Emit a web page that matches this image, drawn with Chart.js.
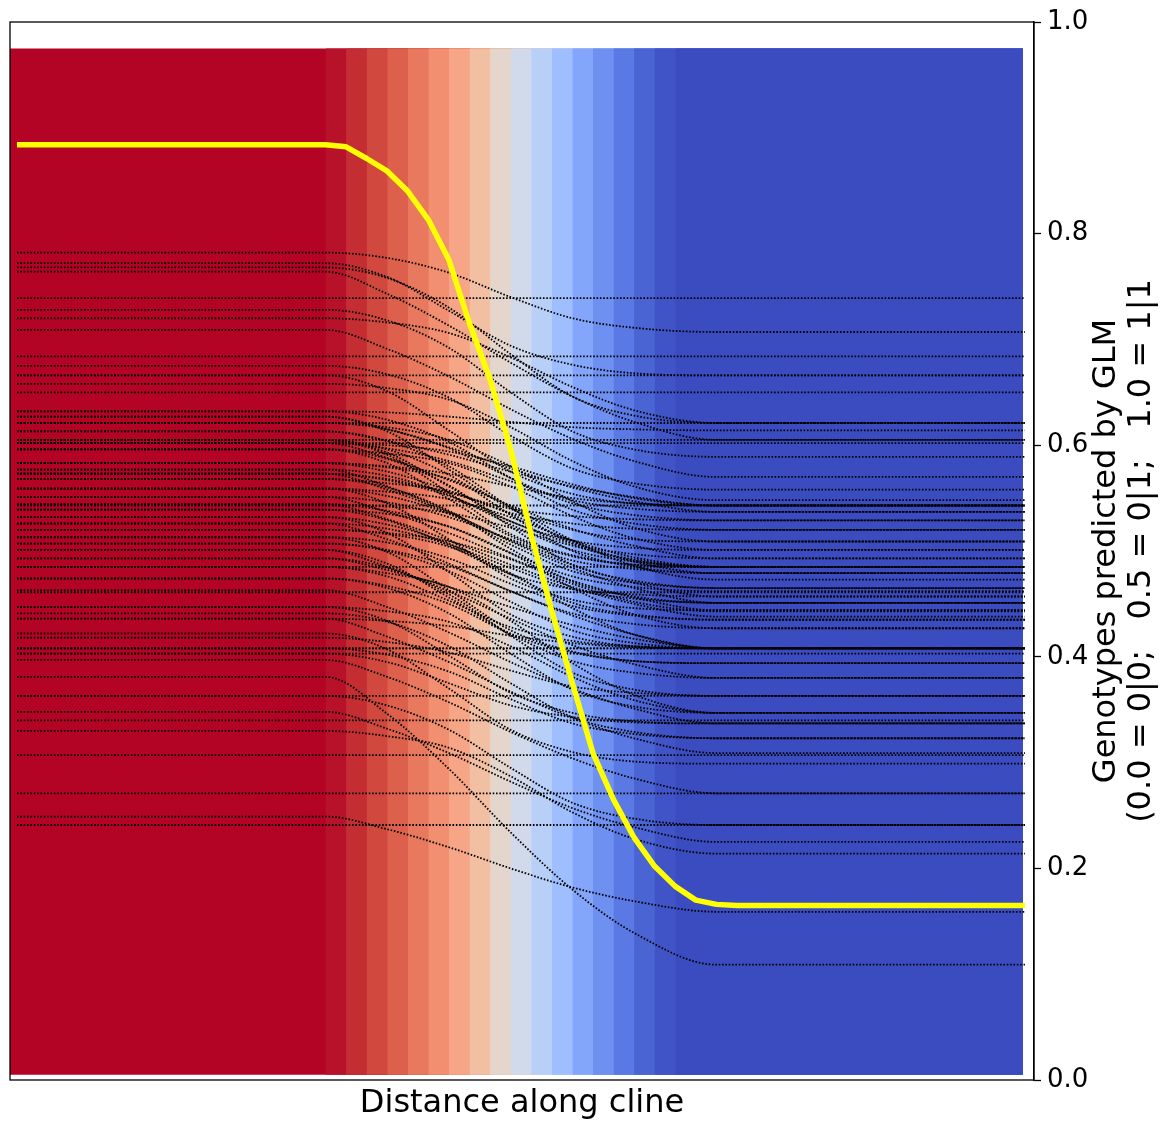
<!DOCTYPE html>
<html>
<head>
<meta charset="utf-8">
<script src="https://cdn.jsdelivr.net/npm/chart.js@4/dist/chart.umd.min.js"></script>
<style>
  html, body { margin: 0; padding: 0; background: #ffffff; }
  canvas { display: block; }
</style>
</head>
<body>
<canvas id="cline" width="1166" height="1124"></canvas>
<script>
// Sampled positions along the cline (sample index)
const samplePositions = [
  0, 1, 2, 3, 4, 5, 6, 7, 8, 9, 10, 11, 12, 13, 14, 15, 16, 17, 18, 19,
  20, 21, 22, 23, 24, 25, 26, 27, 28, 29, 30, 31, 32, 33, 34, 35, 36, 37, 38, 39,
  40, 41, 42, 43, 44, 45, 46, 47, 48, 49
];

// Mean predicted genotype along the cline (yellow curve)
const meanGenotype = [
  0.884, 0.884, 0.884, 0.884, 0.884, 0.884, 0.884, 0.884, 0.884, 0.884,
  0.884, 0.884, 0.884, 0.884, 0.884, 0.884, 0.882, 0.871, 0.859, 0.840,
  0.813, 0.775, 0.715, 0.662, 0.596, 0.515, 0.443, 0.375, 0.309, 0.265,
  0.229, 0.202, 0.183, 0.170, 0.166, 0.165, 0.165, 0.165, 0.165, 0.165,
  0.165, 0.165, 0.165, 0.165, 0.165, 0.165, 0.165, 0.165, 0.165, 0.165
];

// Background strips: left edge of each strip (sample units), shared right edge, vertical extent
const stripEdges = [-0.34, 15, 16, 17, 18, 19, 20, 21, 22, 23, 24, 25, 26, 27, 28, 29, 30, 31, 32];
const stripRightEdge = 48.9;
const stripTop = 0.975;
const stripBottom = 0.005;

// Strip colours (coolwarm, red side to blue side)
const stripColours = [
  '#b40426', '#b8122a', '#c42e32', '#d1493e', '#dd604d', '#e9795e', '#f28f70',
  '#f6a587', '#f3bfa3', '#e4d6cd', '#d0daea', '#b8cff8', '#9ebefe', '#83a6fb',
  '#6e90f1', '#5a79e4', '#4a64d4', '#4054c7', '#3a4cc0'
];

// Per-SNP predicted genotype, sampled at these cline positions
const clineKnots = [0, 15, 18, 21, 24, 27, 30, 34, 49];
const snpCurves = [
  [0.782, 0.782, 0.777, 0.763, 0.740, 0.720, 0.711, 0.707, 0.707],
  [0.772, 0.772, 0.759, 0.727, 0.694, 0.676, 0.668, 0.666, 0.666],
  [0.768, 0.768, 0.758, 0.730, 0.686, 0.646, 0.628, 0.621, 0.621],
  [0.764, 0.764, 0.743, 0.713, 0.678, 0.646, 0.622, 0.605, 0.605],
  [0.739, 0.739, 0.739, 0.739, 0.739, 0.739, 0.739, 0.739, 0.739],
  [0.728, 0.728, 0.718, 0.692, 0.650, 0.613, 0.596, 0.589, 0.589],
  [0.720, 0.720, 0.716, 0.706, 0.683, 0.655, 0.633, 0.621, 0.621],
  [0.709, 0.709, 0.691, 0.665, 0.634, 0.606, 0.585, 0.570, 0.570],
  [0.684, 0.684, 0.684, 0.684, 0.684, 0.684, 0.684, 0.684, 0.684],
  [0.675, 0.675, 0.667, 0.645, 0.609, 0.578, 0.564, 0.558, 0.558],
  [0.666, 0.666, 0.666, 0.666, 0.666, 0.666, 0.666, 0.666, 0.666],
  [0.666, 0.666, 0.651, 0.614, 0.575, 0.554, 0.545, 0.543, 0.543],
  [0.658, 0.658, 0.654, 0.643, 0.617, 0.585, 0.561, 0.548, 0.548],
  [0.650, 0.650, 0.650, 0.650, 0.650, 0.650, 0.650, 0.650, 0.650],
  [0.632, 0.632, 0.631, 0.627, 0.622, 0.617, 0.615, 0.614, 0.614],
  [0.632, 0.632, 0.624, 0.603, 0.569, 0.539, 0.526, 0.520, 0.520],
  [0.627, 0.627, 0.615, 0.598, 0.578, 0.560, 0.547, 0.537, 0.537],
  [0.627, 0.627, 0.613, 0.577, 0.540, 0.520, 0.511, 0.509, 0.509],
  [0.621, 0.621, 0.621, 0.621, 0.621, 0.621, 0.621, 0.621, 0.621],
  [0.621, 0.621, 0.617, 0.605, 0.580, 0.547, 0.522, 0.509, 0.509],
  [0.621, 0.621, 0.615, 0.597, 0.569, 0.545, 0.534, 0.529, 0.529],
  [0.613, 0.613, 0.604, 0.580, 0.541, 0.507, 0.491, 0.485, 0.485],
  [0.613, 0.613, 0.604, 0.591, 0.575, 0.561, 0.551, 0.543, 0.543],
  [0.605, 0.605, 0.605, 0.605, 0.605, 0.605, 0.605, 0.605, 0.605],
  [0.605, 0.605, 0.593, 0.561, 0.528, 0.510, 0.503, 0.501, 0.501],
  [0.605, 0.605, 0.596, 0.572, 0.534, 0.500, 0.485, 0.479, 0.479],
  [0.605, 0.605, 0.591, 0.555, 0.516, 0.496, 0.487, 0.485, 0.485],
  [0.602, 0.602, 0.602, 0.602, 0.602, 0.602, 0.602, 0.602, 0.602],
  [0.602, 0.602, 0.600, 0.594, 0.580, 0.563, 0.550, 0.543, 0.543],
  [0.602, 0.602, 0.588, 0.567, 0.543, 0.521, 0.505, 0.493, 0.493],
  [0.602, 0.602, 0.597, 0.585, 0.566, 0.548, 0.540, 0.537, 0.537],
  [0.596, 0.596, 0.583, 0.549, 0.514, 0.495, 0.487, 0.485, 0.485],
  [0.596, 0.596, 0.587, 0.562, 0.523, 0.487, 0.472, 0.465, 0.465],
  [0.596, 0.596, 0.592, 0.583, 0.561, 0.533, 0.512, 0.501, 0.501],
  [0.583, 0.583, 0.580, 0.573, 0.561, 0.550, 0.545, 0.543, 0.543],
  [0.583, 0.583, 0.579, 0.568, 0.542, 0.510, 0.486, 0.473, 0.473],
  [0.583, 0.583, 0.575, 0.557, 0.536, 0.526, 0.521, 0.520, 0.520],
  [0.577, 0.577, 0.571, 0.553, 0.525, 0.501, 0.490, 0.485, 0.485],
  [0.577, 0.577, 0.561, 0.537, 0.509, 0.484, 0.465, 0.451, 0.451],
  [0.573, 0.573, 0.558, 0.536, 0.510, 0.487, 0.470, 0.457, 0.457],
  [0.573, 0.573, 0.568, 0.555, 0.540, 0.533, 0.530, 0.529, 0.529],
  [0.573, 0.573, 0.567, 0.552, 0.528, 0.507, 0.497, 0.493, 0.493],
  [0.568, 0.568, 0.560, 0.538, 0.502, 0.471, 0.457, 0.451, 0.451],
  [0.568, 0.568, 0.564, 0.556, 0.535, 0.509, 0.490, 0.479, 0.479],
  [0.559, 0.559, 0.556, 0.549, 0.532, 0.510, 0.494, 0.485, 0.485],
  [0.559, 0.559, 0.545, 0.511, 0.474, 0.454, 0.446, 0.444, 0.444],
  [0.559, 0.559, 0.552, 0.535, 0.506, 0.481, 0.470, 0.465, 0.465],
  [0.551, 0.551, 0.546, 0.532, 0.511, 0.491, 0.483, 0.479, 0.479],
  [0.551, 0.551, 0.537, 0.517, 0.493, 0.472, 0.456, 0.444, 0.444],
  [0.544, 0.544, 0.530, 0.510, 0.487, 0.466, 0.450, 0.438, 0.438],
  [0.544, 0.544, 0.538, 0.523, 0.498, 0.476, 0.466, 0.462, 0.462],
  [0.544, 0.544, 0.542, 0.536, 0.522, 0.505, 0.492, 0.485, 0.485],
  [0.543, 0.543, 0.543, 0.543, 0.543, 0.543, 0.543, 0.543, 0.543],
  [0.539, 0.539, 0.535, 0.523, 0.498, 0.465, 0.440, 0.427, 0.427],
  [0.539, 0.539, 0.529, 0.505, 0.478, 0.464, 0.459, 0.457, 0.457],
  [0.532, 0.532, 0.517, 0.480, 0.440, 0.419, 0.410, 0.408, 0.408],
  [0.532, 0.532, 0.525, 0.507, 0.478, 0.451, 0.440, 0.435, 0.435],
  [0.526, 0.526, 0.521, 0.506, 0.484, 0.464, 0.455, 0.451, 0.451],
  [0.526, 0.526, 0.511, 0.488, 0.462, 0.439, 0.421, 0.408, 0.408],
  [0.520, 0.520, 0.517, 0.509, 0.492, 0.469, 0.452, 0.443, 0.443],
  [0.520, 0.520, 0.516, 0.504, 0.479, 0.446, 0.421, 0.408, 0.408],
  [0.513, 0.513, 0.508, 0.493, 0.469, 0.448, 0.439, 0.435, 0.435],
  [0.513, 0.513, 0.499, 0.463, 0.425, 0.405, 0.396, 0.394, 0.394],
  [0.507, 0.507, 0.500, 0.481, 0.452, 0.425, 0.413, 0.408, 0.408],
  [0.507, 0.507, 0.501, 0.486, 0.462, 0.441, 0.431, 0.427, 0.427],
  [0.501, 0.501, 0.485, 0.462, 0.436, 0.411, 0.393, 0.380, 0.380],
  [0.501, 0.501, 0.488, 0.456, 0.422, 0.404, 0.396, 0.394, 0.394],
  [0.493, 0.493, 0.484, 0.459, 0.420, 0.385, 0.369, 0.363, 0.363],
  [0.493, 0.493, 0.482, 0.466, 0.447, 0.430, 0.417, 0.408, 0.408],
  [0.485, 0.485, 0.485, 0.485, 0.485, 0.485, 0.485, 0.485, 0.485],
  [0.485, 0.485, 0.479, 0.466, 0.434, 0.394, 0.364, 0.347, 0.347],
  [0.485, 0.485, 0.476, 0.453, 0.428, 0.415, 0.410, 0.408, 0.408],
  [0.474, 0.474, 0.465, 0.441, 0.403, 0.369, 0.353, 0.347, 0.347],
  [0.474, 0.474, 0.467, 0.450, 0.421, 0.396, 0.385, 0.380, 0.380],
  [0.461, 0.461, 0.461, 0.461, 0.461, 0.461, 0.461, 0.461, 0.461],
  [0.463, 0.463, 0.447, 0.423, 0.395, 0.370, 0.351, 0.337, 0.337],
  [0.447, 0.447, 0.434, 0.401, 0.366, 0.347, 0.339, 0.337, 0.337],
  [0.447, 0.447, 0.443, 0.433, 0.410, 0.381, 0.359, 0.347, 0.347],
  [0.441, 0.441, 0.433, 0.410, 0.375, 0.343, 0.329, 0.323, 0.323],
  [0.436, 0.436, 0.419, 0.395, 0.367, 0.342, 0.323, 0.309, 0.309],
  [0.436, 0.436, 0.434, 0.429, 0.420, 0.413, 0.409, 0.408, 0.408],
  [0.422, 0.422, 0.407, 0.370, 0.331, 0.310, 0.301, 0.299, 0.299],
  [0.418, 0.418, 0.414, 0.404, 0.387, 0.372, 0.366, 0.363, 0.363],
  [0.408, 0.408, 0.408, 0.408, 0.408, 0.408, 0.408, 0.408, 0.408],
  [0.408, 0.408, 0.408, 0.408, 0.408, 0.408, 0.408, 0.408, 0.408],
  [0.408, 0.408, 0.402, 0.386, 0.360, 0.337, 0.327, 0.323, 0.323],
  [0.403, 0.403, 0.403, 0.403, 0.403, 0.403, 0.403, 0.403, 0.403],
  [0.403, 0.403, 0.395, 0.375, 0.354, 0.343, 0.338, 0.337, 0.337],
  [0.397, 0.397, 0.381, 0.357, 0.329, 0.304, 0.285, 0.271, 0.271],
  [0.381, 0.381, 0.346, 0.294, 0.234, 0.180, 0.139, 0.109, 0.109],
  [0.363, 0.363, 0.363, 0.363, 0.363, 0.363, 0.363, 0.363, 0.363],
  [0.363, 0.363, 0.354, 0.331, 0.295, 0.262, 0.247, 0.241, 0.241],
  [0.348, 0.348, 0.332, 0.309, 0.282, 0.257, 0.239, 0.225, 0.225],
  [0.340, 0.340, 0.340, 0.340, 0.340, 0.340, 0.340, 0.340, 0.340],
  [0.330, 0.330, 0.325, 0.314, 0.287, 0.253, 0.228, 0.214, 0.214],
  [0.307, 0.307, 0.307, 0.307, 0.307, 0.307, 0.307, 0.307, 0.307],
  [0.271, 0.271, 0.271, 0.271, 0.271, 0.271, 0.271, 0.271, 0.271],
  [0.249, 0.249, 0.237, 0.220, 0.200, 0.182, 0.169, 0.159, 0.159],
  [0.241, 0.241, 0.241, 0.241, 0.241, 0.241, 0.241, 0.241, 0.241]
];

// Right-hand axis ticks and titles
const yTickValues = [0.0, 0.2, 0.4, 0.6, 0.8, 1.0];
const yTickLabels = ['0.0', '0.2', '0.4', '0.6', '0.8', '1.0'];
const xTitle = 'Distance along cline';
const yTitleLines = ['Genotypes predicted by GLM', '(0.0 = 0|0;   0.5 = 0|1;   1.0 = 1|1'];

const FONT = "'DejaVu Sans', 'Liberation Sans', sans-serif";

// Each strip runs from its left edge to the shared right edge; later strips paint over earlier ones
const stripSets = stripEdges.map((edge, i) => ({
  data: [{ x: edge, y: stripTop }, { x: stripRightEdge, y: stripTop }],
  fill: { value: stripBottom },
  backgroundColor: stripColours[i],
  borderColor: 'rgba(0,0,0,0)',
  borderWidth: 0,
  pointRadius: 0,
  order: 1000 - i
}));

const snpSets = snpCurves.map(curve => ({
  data: clineKnots.map((x, k) => ({ x, y: curve[k] })),
  borderColor: '#000000',
  borderWidth: 1.8,
  borderDash: [1.6, 1.75],
  borderCapStyle: 'butt',
  cubicInterpolationMode: 'monotone',
  pointRadius: 0,
  fill: false,
  order: 10
}));

const meanSet = {
  data: samplePositions.map((x, i) => ({ x, y: meanGenotype[i] })),
  borderColor: '#ffff00',
  borderWidth: 5.5,
  borderJoinStyle: 'round',
  borderCapStyle: 'butt',
  tension: 0,
  pointRadius: 0,
  fill: false,
  order: 0
};

// Box around the plotting area
const frame = {
  id: 'frame',
  afterDatasetsDraw(chart) {
    const { ctx, chartArea: a } = chart;
    ctx.save();
    ctx.strokeStyle = '#000000';
    ctx.lineWidth = 1.3;
    ctx.strokeRect(a.left, a.top, a.right - a.left, a.bottom - a.top);
    ctx.restore();
  }
};

// Rotated two-line title for the right-hand axis (reads bottom to top)
const rightTitle = {
  id: 'rightTitle',
  afterDraw(chart) {
    const { ctx, chartArea: a } = chart;
    const cy = (a.top + a.bottom) / 2;
    const xs = [1107, 1142];
    ctx.save();
    ctx.fillStyle = '#000000';
    ctx.font = "32px " + FONT;
    ctx.textAlign = 'center';
    ctx.textBaseline = 'middle';
    yTitleLines.forEach((line, i) => {
      ctx.save();
      ctx.translate(xs[i], cy);
      ctx.rotate(-Math.PI / 2);
      ctx.fillText(line, 0, 0);
      ctx.restore();
    });
    ctx.restore();
  }
};

new Chart(document.getElementById('cline'), {
  type: 'line',
  data: { datasets: [...stripSets, ...snpSets, meanSet] },
  options: {
    responsive: false,
    devicePixelRatio: 1,
    animation: false,
    layout: { padding: { left: 10, top: 22, right: 0, bottom: 0 } },
    plugins: { legend: { display: false }, tooltip: { enabled: false } },
    scales: {
      x: {
        type: 'linear',
        min: -0.34,
        max: 49.44,
        grid: { display: false },
        border: { display: false },
        ticks: { display: false },
        title: {
          display: true,
          text: xTitle,
          color: '#000000',
          font: { family: FONT, size: 32, lineHeight: 1.2 },
          padding: { top: 0, bottom: 1 }
        },
        afterFit(scale) { scale.height = 44; }
      },
      y: {
        position: 'right',
        min: 0,
        max: 1,
        afterBuildTicks(scale) { scale.ticks = yTickValues.map(v => ({ value: v })); },
        ticks: {
          color: '#000000',
          font: { family: FONT, size: 26 },
          padding: 6,
          callback: (v) => yTickLabels[yTickValues.indexOf(v)] ?? ''
        },
        grid: { drawOnChartArea: false, drawTicks: true, tickLength: 7, color: '#000000', tickWidth: 1.3 },
        border: { display: true, color: '#000000', width: 1.3 },
        afterFit(scale) { scale.width = 132; }
      }
    }
  },
  plugins: [frame, rightTitle]
});
</script>
</body>
</html>
